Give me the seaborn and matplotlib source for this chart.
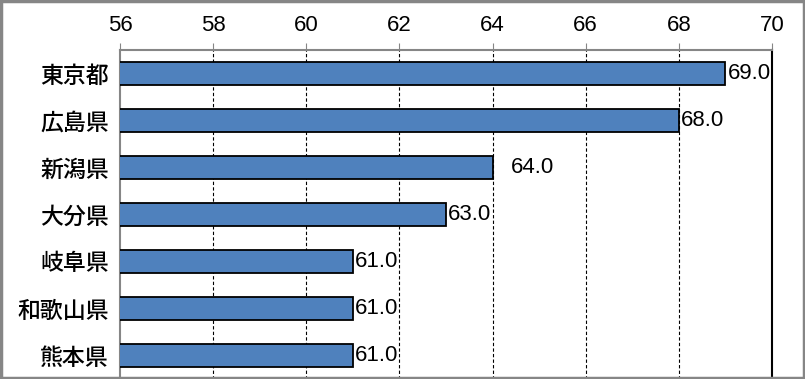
import matplotlib
matplotlib.use("Agg")
import matplotlib.pyplot as plt
import seaborn as sns
import pandas as pd
import numpy as np

prefs = ["東京都", "広島県", "新潟県", "大分県", "岐阜県", "和歌山県", "熊本県"]
vals = [69.0, 68.0, 64.0, 63.0, 61.0, 61.0, 61.0]
xticks = [56, 58, 60, 62, 64, 66, 68, 70]

sns.set_style("white")
plt.rcParams["font.family"] = ["Liberation Sans", "Noto Sans CJK JP", "DejaVu Sans"]
plt.rcParams["text.color"] = "black"
plt.rcParams["xtick.labelcolor"] = "black"
plt.rcParams["ytick.labelcolor"] = "black"

df = pd.DataFrame({"pref": prefs, "val": vals})

fig = plt.figure(figsize=(8.05, 3.79), dpi=100)
ax = fig.add_axes([120 / 805, 0.0, 652 / 805, 329 / 379])

sns.barplot(data=df, x="val", y="pref", orient="h", color="#4F81BD",
            saturation=1, width=0.5, edgecolor="black", linewidth=1.3, ax=ax, zorder=3)

ax.set_xlim(56, 70)
ax.set_ylim(len(prefs) - 0.5, -0.5)
ax.set_xticks(xticks)
ax.xaxis.tick_top()
ax.tick_params(axis="x", which="major", direction="out", length=5, color="#868686",
               labelsize=16, pad=5, labelcolor="black")
ax.set_xlabel("")
ax.set_ylabel("")

# category ticks between bands
ax.set_yticks(range(len(prefs)))
ax.set_yticklabels(prefs, fontsize=16.5, fontweight="medium",
                   family=["Noto Sans CJK JP", "DejaVu Sans"])
ax.tick_params(axis="y", which="major", length=0, pad=8, labelcolor="black")
ax.set_yticks(np.arange(-0.5, len(prefs), 1), minor=True)
ax.tick_params(axis="y", which="minor", direction="out", length=5, color="#868686")

for x in xticks[1:-1]:
    ax.axvline(x, color="black", lw=0.8, ls=(0, (3, 2)), zorder=1)

ax.spines["bottom"].set_visible(False)
ax.spines["left"].set_color("#868686")
ax.spines["left"].set_linewidth(1.5)
ax.spines["top"].set_color("#868686")
ax.spines["top"].set_linewidth(1.5)
ax.spines["right"].set_color("black")
ax.spines["right"].set_linewidth(1.5)

for i, v in enumerate(vals):
    pad = 13 if v == 64.0 else 1.5
    ax.annotate(f"{v:.1f}", (v, i), xytext=(pad, 0), textcoords="offset points",
                va="center", ha="left", fontsize=16, color="black")

fig.patches.append(plt.Rectangle((0.0012, 0.0026), 0.9976, 0.9948, transform=fig.transFigure,
                                 fill=False, edgecolor="#868686", lw=2.5))

fig.savefig("out.png", dpi=100)
